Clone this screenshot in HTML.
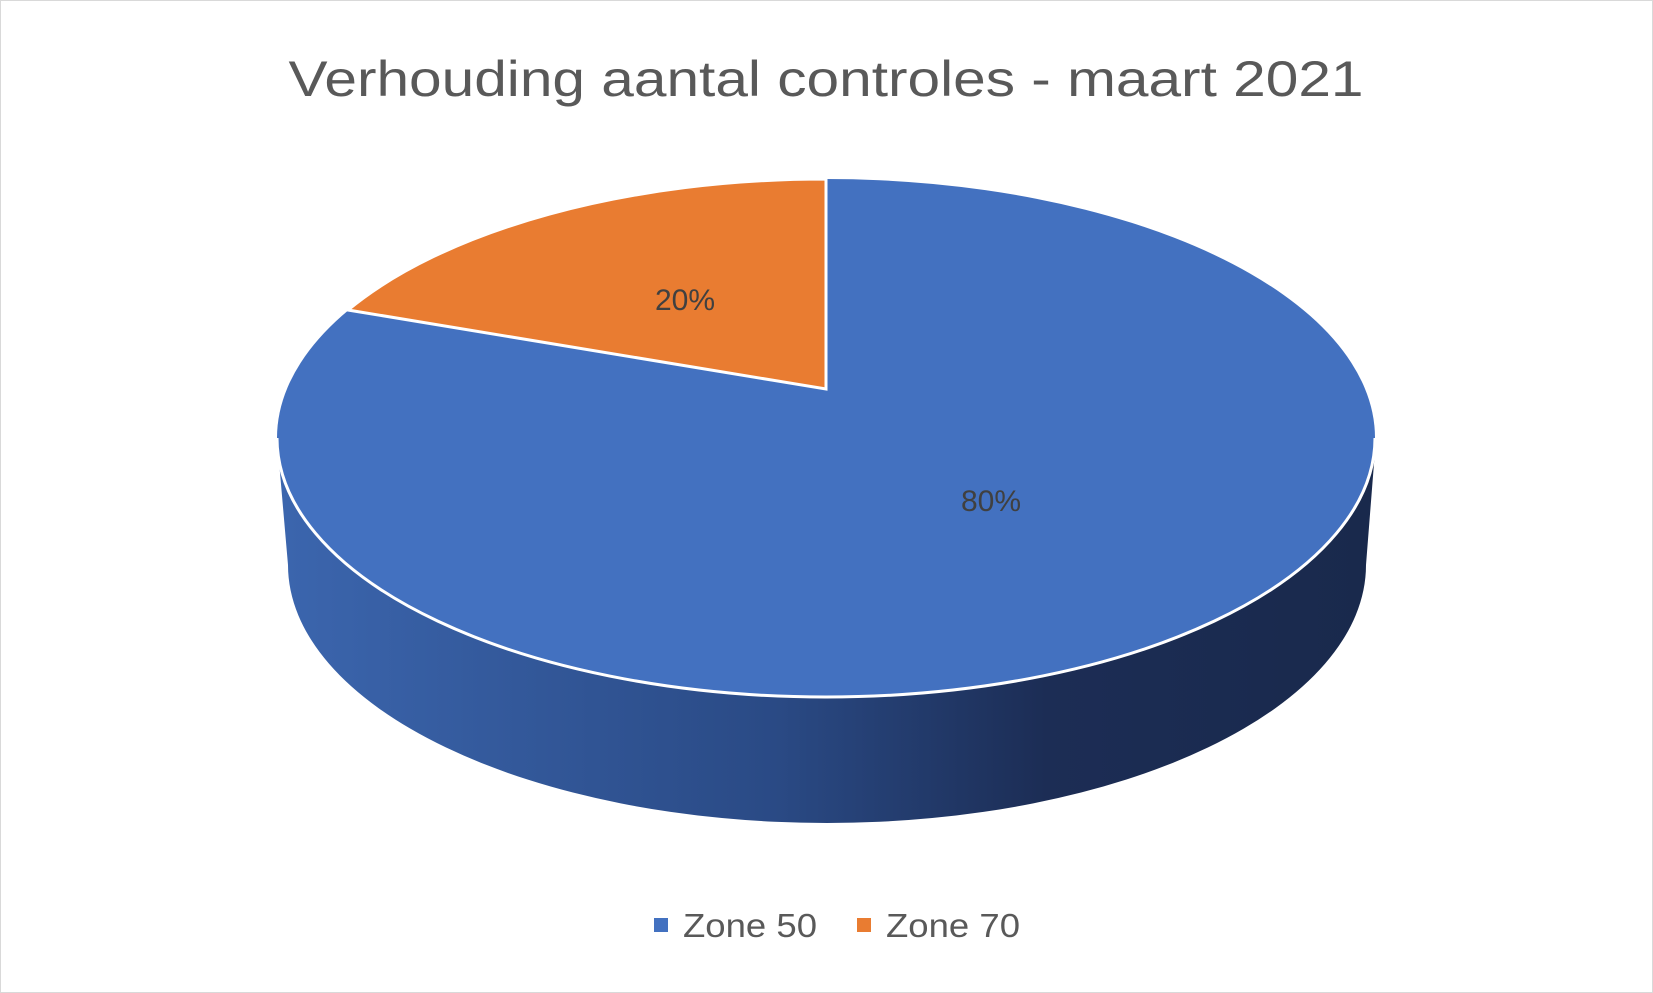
<!DOCTYPE html>
<html><head><meta charset="utf-8"><style>
html,body{margin:0;padding:0;background:#fff;}
svg{display:block;}
</style></head><body>
<svg width="1653" height="993" viewBox="0 0 1653 993" xmlns="http://www.w3.org/2000/svg">
<defs>
<linearGradient id="side" x1="288" y1="0" x2="1370" y2="0" gradientUnits="userSpaceOnUse">
<stop offset="0" stop-color="#3b65ad"/>
<stop offset="0.45" stop-color="#2a4a85"/>
<stop offset="0.7" stop-color="#1c2d55"/>
<stop offset="1" stop-color="#19294c"/>
</linearGradient>
</defs>
<rect x="0.5" y="0.5" width="1652" height="992" fill="#fff" stroke="#d9d9d9"/>
<text x="826" y="96" text-anchor="middle" font-family="Liberation Sans, sans-serif" font-size="50" fill="#595959" textLength="1075" lengthAdjust="spacingAndGlyphs">Verhouding aantal controles - maart 2021</text>
<path d="M277,438 A549,259 0 0 0 1376,438 L1366,565 A539,258 0 0 1 288,565 Z" fill="url(#side)"/>
<ellipse cx="826" cy="438" rx="549" ry="259" fill="#4371c0"/>
<path d="M277,438 A549,259 0 0 0 1375,438" fill="none" stroke="#fff" stroke-width="3"/>
<path d="M826,389 L826,179 A549,259 0 0 0 348,310 Z" fill="#e97c31" stroke="#fff" stroke-width="3" stroke-linejoin="miter"/>
<text x="685" y="310" text-anchor="middle" font-family="Liberation Sans, sans-serif" font-size="30" fill="#404040">20%</text>
<text x="991" y="511" text-anchor="middle" font-family="Liberation Sans, sans-serif" font-size="30" fill="#404040">80%</text>
<rect x="654" y="918" width="14" height="14" fill="#4371c0"/>
<text x="683" y="937" font-family="Liberation Sans, sans-serif" font-size="33" fill="#595959" textLength="134" lengthAdjust="spacingAndGlyphs">Zone 50</text>
<rect x="857" y="918" width="14" height="14" fill="#e97c31"/>
<text x="886" y="937" font-family="Liberation Sans, sans-serif" font-size="33" fill="#595959" textLength="134" lengthAdjust="spacingAndGlyphs">Zone 70</text>
</svg>
</body></html>
